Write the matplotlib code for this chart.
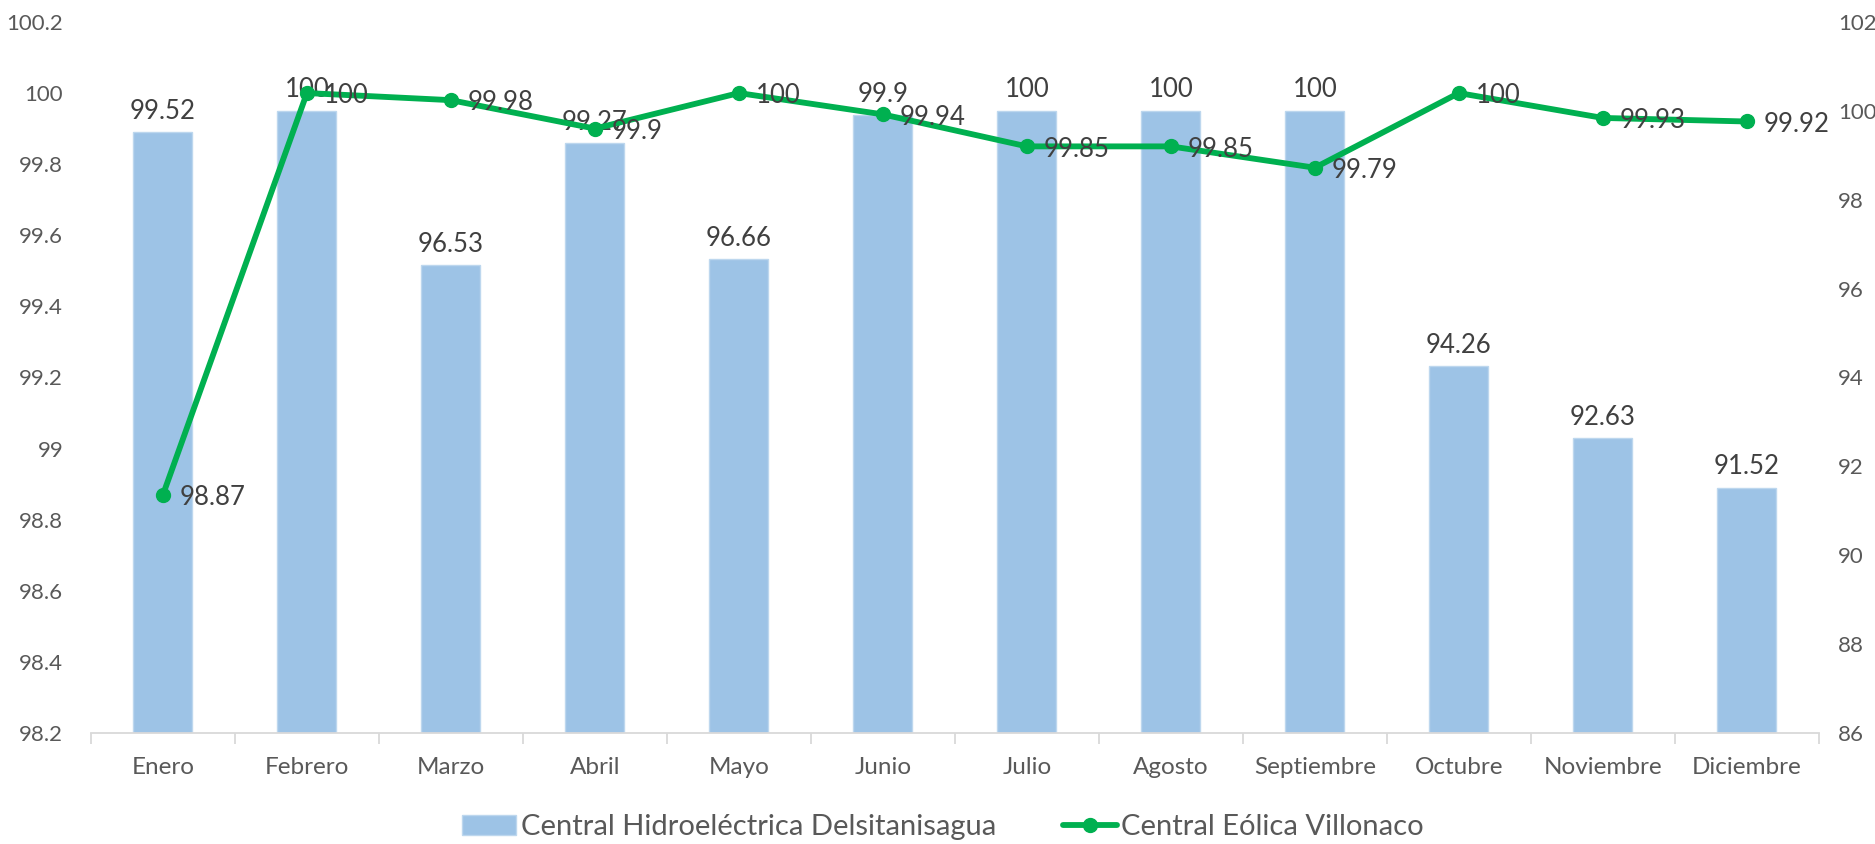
import matplotlib
matplotlib.use("Agg")
import matplotlib.pyplot as plt
from matplotlib.ticker import FuncFormatter, FixedLocator
import numpy as np

months = ["Enero", "Febrero", "Marzo", "Abril", "Mayo", "Junio", "Julio",
          "Agosto", "Septiembre", "Octubre", "Noviembre", "Diciembre"]
hidro = [99.52, 100, 96.53, 99.27, 96.66, 99.9, 100, 100, 100, 94.26, 92.63, 91.52]
eolica = [98.87, 100, 99.98, 99.9, 100, 99.94, 99.85, 99.85, 99.79, 100, 99.93, 99.92]
hidro_name = "Central Hidroeléctrica Delsitanisagua"
eolica_name = "Central Eólica Villonaco"

plt.rcParams['font.family'] = ['Lato', 'DejaVu Sans']

fig = plt.figure(figsize=(18.75, 8.44), dpi=100)
ax = fig.add_axes([0.0485, 0.1315, 0.9215, 0.8425])
ax2 = ax.twinx()

x = np.arange(len(months))
bar_color = "#9DC3E6"
line_color = "#00B050"
label_color = "#404040"
tick_color = "#595959"

# bars on right axis
bars = ax2.bar(x, hidro, width=0.41, color=bar_color, edgecolor="#BDD7EE",
               linewidth=1, zorder=1, label=hidro_name)
ax2.set_ylim(86, 102)
ax2.yaxis.set_major_locator(FixedLocator(np.arange(86, 103, 2)))

# line on left axis, drawn above bars
ax.set_zorder(ax2.get_zorder() + 1)
ax.patch.set_visible(False)
line, = ax.plot(x, eolica, color=line_color, linewidth=4.2, marker="o",
                markersize=10, zorder=3, label=eolica_name, solid_capstyle="round")
ax.set_ylim(98.2, 100.2)
ax.yaxis.set_major_locator(FixedLocator(np.round(np.arange(98.2, 100.21, 0.2), 1)))
ax.yaxis.set_major_formatter(FuncFormatter(lambda v, p: f"{v:g}"))
ax2.yaxis.set_major_formatter(FuncFormatter(lambda v, p: f"{v:g}"))
ax.set_xlim(-0.5, len(months) - 0.5)

# bar labels
for xi, v in zip(x, hidro):
    ax2.annotate(f"{v:g}", (xi, v), xytext=(0, 6), textcoords="offset points",
                 ha="center", va="bottom", fontsize=18.5, color=label_color)
# line labels
for xi, v in zip(x, eolica):
    ax.annotate(f"{v:g}", (xi, v), xytext=(12, -2), textcoords="offset points",
                ha="left", va="center", fontsize=18.5, color=label_color, zorder=4)

# axes styling
for a in (ax, ax2):
    for s in ("top", "left", "right", "bottom"):
        a.spines[s].set_visible(False)
ax.spines["bottom"].set_visible(True)
ax.spines["bottom"].set_color("#D9D9D9")
ax.spines["bottom"].set_linewidth(1.3)

ax.set_xticks(x)
ax.set_xticklabels(months)
ax.set_xticks(np.arange(-0.5, len(months), 1), minor=True)
ax.tick_params(axis="x", which="major", length=0, pad=17, labelsize=17.5, labelcolor=tick_color)
ax.tick_params(axis="x", which="minor", length=8, color="#D9D9D9", width=1.3)
ax.tick_params(axis="y", length=0, pad=20, labelsize=16, labelcolor=tick_color)
ax2.tick_params(axis="y", length=0, pad=14, labelsize=16, labelcolor=tick_color)

handles = [bars, line]
fig.legend(handles, [hidro_name, eolica_name], loc="center", bbox_to_anchor=(0.503, 0.02),
           ncol=2, frameon=False, fontsize=21, labelcolor=tick_color,
           handlelength=1.85, handletextpad=0.15, columnspacing=2.3)

fig.savefig("out.png", dpi=100)
